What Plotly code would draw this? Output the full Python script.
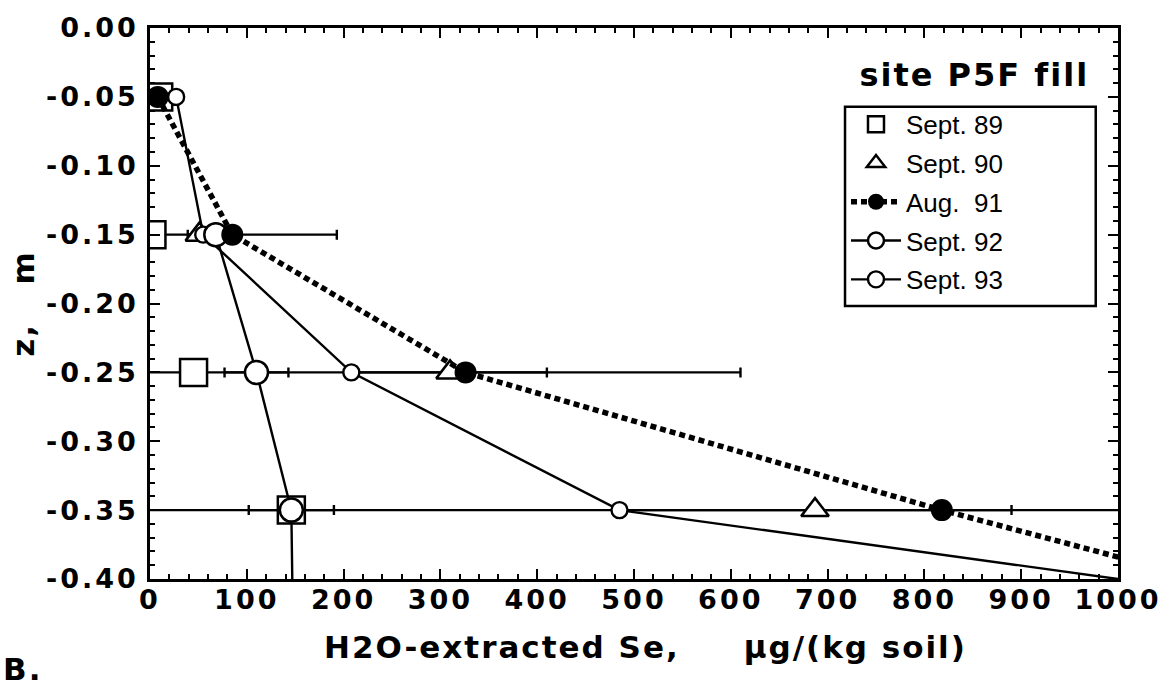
import plotly.graph_objects as go

# Depth of each sampling layer (m); the last entry lies below the plotted range
depth = [-0.05, -0.15, -0.25, -0.35]
depth_ext = [-0.05, -0.15, -0.25, -0.35, -0.45]

# H2O-extracted Se, ug/(kg soil)
sept89 = [9, 2, 45, 146]
sept90 = [None, 51, 310, 687]
aug91 = [8, 85, 326, 818, 1353]
sept92 = [None, 68, 110, 146, 148]
sept93 = [27, 55, 208, 485, 1515]

# Horizontal error bars (+ / -)
aug91_err_plus = [0, 108, 284, 900]
aug91_err_minus = [0, 108, 400, 900]
sept90_err = [0, 0, 100, 203]
sept92_err = [0, 0, 33, 44]
sept93_err = [0, 16, 0, 0]

x_ticks = [0, 100, 200, 300, 400, 500, 600, 700, 800, 900, 1000]
x_ticktext = [str(v) for v in x_ticks]
y_ticks = [0.0, -0.05, -0.10, -0.15, -0.20, -0.25, -0.30, -0.35, -0.40]
y_ticktext = ["0.00", "-0.05", "-0.10", "-0.15", "-0.20", "-0.25", "-0.30", "-0.35", "-0.40"]

BOLD = "DejaVu Sans, Verdana, sans-serif"
PLAIN = "Liberation Sans, Arial, Helvetica, sans-serif"
NB = "\u00a0"

fig = go.Figure()


def err_trace(xvals, plus, minus):
    fig.add_trace(go.Scatter(
        x=xvals, y=depth, mode="markers",
        marker=dict(size=1, color="rgba(0,0,0,0)"),
        error_x=dict(type="data", symmetric=False, array=plus, arrayminus=minus,
                     color="black", thickness=2.4, width=5),
        showlegend=False, hoverinfo="skip",
    ))


# error bars go underneath every marker
err_trace(aug91[:4], aug91_err_plus, aug91_err_minus)
err_trace([v if v is not None else 0 for v in sept90], sept90_err, sept90_err)
err_trace([v if v is not None else 0 for v in sept92[:4]], sept92_err, sept92_err)
err_trace(sept93[:4], sept93_err, sept93_err)

fig.add_trace(go.Scatter(
    x=sept89, y=depth, mode="markers", name="Sept. 89",
    marker=dict(symbol="square", size=27, color="white", line=dict(color="black", width=2.5)),
    legendgroup="a", legendrank=1,
))
fig.add_trace(go.Scatter(
    x=sept90, y=depth, mode="markers", name="Sept. 90",
    marker=dict(symbol="triangle-up", size=24, color="white", line=dict(color="black", width=2.5)),
    legendgroup="b", legendrank=2,
))
fig.add_trace(go.Scatter(
    x=sept93, y=depth_ext, mode="lines+markers", name="Sept. 93",
    line=dict(color="black", width=2.4),
    marker=dict(symbol="circle", size=16, color="white", line=dict(color="black", width=2.4)),
    legendgroup="e", legendrank=5,
))
fig.add_trace(go.Scatter(
    x=sept92, y=depth_ext, mode="lines+markers", name="Sept. 92",
    line=dict(color="black", width=2.4),
    marker=dict(symbol="circle", size=23, color="white", line=dict(color="black", width=2.5)),
    legendgroup="d", legendrank=4,
))
fig.add_trace(go.Scatter(
    x=aug91, y=depth_ext, mode="lines+markers", name="Aug." + NB + NB + "91",
    line=dict(color="black", width=5.5, dash="6px,4px"),
    marker=dict(symbol="circle", size=22, color="black"),
    legendgroup="c", legendrank=3,
))

axis_common = dict(
    showline=True, linecolor="black", linewidth=2.5, mirror="allticks",
    ticks="inside", ticklen=10, tickwidth=2, tickcolor="black",
    showgrid=False, zeroline=False,
    tickfont=dict(family=BOLD, size=27, color="black", weight="bold"),
)

fig.update_xaxes(
    range=[0, 1000], tickvals=x_ticks, ticktext=x_ticktext,
    minor=dict(ticks="inside", dtick=20, ticklen=5, tickwidth=2, tickcolor="black"),
    ticklabelstandoff=-5,
    **axis_common,
)
fig.update_yaxes(
    range=[-0.40, 0.0], tickvals=y_ticks, ticktext=y_ticktext,
    minor=dict(ticks="inside", dtick=0.01, ticklen=5, tickwidth=2, tickcolor="black"),
    ticklabelstandoff=3,
    **axis_common,
)

# legend frame
fig.add_shape(type="rect", xref="paper", yref="paper",
              x0=0.718, x1=0.977, y0=0.4955, y1=0.857,
              line=dict(color="black", width=2.5), fillcolor="white", layer="above")

fig.update_layout(
    width=1168, height=692,
    margin=dict(l=150, r=46, t=20, b=113),
    paper_bgcolor="white", plot_bgcolor="white",
    font=dict(family=PLAIN, color="black"),
    showlegend=True,
    legend=dict(
        x=0.719, y=0.868, xanchor="left", yanchor="top",
        bgcolor="rgba(0,0,0,0)", borderwidth=0,
        font=dict(family=PLAIN, size=26, color="black"),
        traceorder="grouped", tracegroupgap=2, itemwidth=50,
    ),
    annotations=[
        dict(text="site P5F fill", xref="paper", yref="paper", x=0.852, y=0.914,
             xanchor="center", yanchor="middle", showarrow=False,
             font=dict(family=BOLD, size=32, color="black", weight="bold")),
        dict(text="H2O-extracted Se," + NB * 5 + "\u03bcg/(kg soil)", xref="paper", yref="paper",
             x=0.512, y=-0.123, xanchor="center", yanchor="middle", showarrow=False,
             font=dict(family=BOLD, size=31, color="black", weight="bold")),
        dict(text="z," + NB * 3 + "m", xref="paper", yref="paper", textangle=-90,
             x=-0.132, y=0.5, xanchor="center", yanchor="middle", showarrow=False,
             font=dict(family=BOLD, size=31, color="black", weight="bold")),
        dict(text="B.", xref="paper", yref="paper",
             x=-0.152, y=-0.163, xanchor="left", yanchor="middle", showarrow=False,
             font=dict(family=BOLD, size=31, color="black", weight="bold")),
    ],
)

# wider tracking for the bold labels
spacing_css = (
    "var s=document.createElement('style');"
    "s.textContent='.xtick text,.ytick text{letter-spacing:3px}"
    " .annotation-text{letter-spacing:2px}';"
    "document.head.appendChild(s);"
)

fig.write_html("out.html", post_script=spacing_css)
